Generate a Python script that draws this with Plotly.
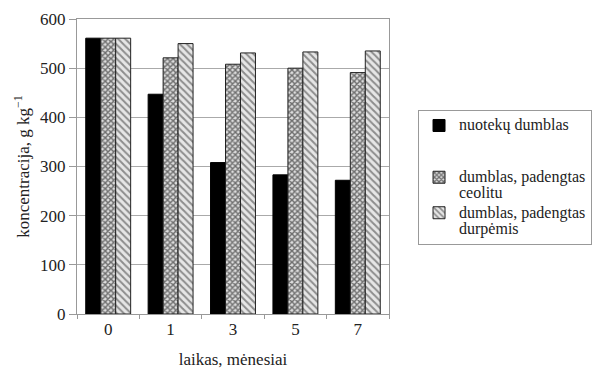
import plotly.graph_objects as go

categories = ["0", "1", "3", "5", "7"]
nuoteku = [561, 447, 308, 283, 272]
ceolitu = [561, 521, 508, 500, 491]
durpemis = [561, 550, 531, 533, 535]
series_lines = [["nuotekų dumblas", " ", " "],
                ["dumblas, padengtas", "ceolitu"],
                ["dumblas, padengtas", "durpėmis"]]
series_names = ["<br>".join("<span style='font-size:16px'>%s</span>" % s for s in lines)
                for lines in series_lines]

font = "Times New Roman"

fig = go.Figure()
fig.add_bar(x=categories, y=nuoteku, name=series_names[0],
            marker=dict(color="black", line=dict(color="black", width=1)))
fig.add_bar(x=categories, y=ceolitu, name=series_names[1],
            marker=dict(color="white", line=dict(color="#222", width=1),
                        pattern=dict(shape="x", fgcolor="#000", bgcolor="#ddd", size=4, solidity=0.6)))
fig.add_bar(x=categories, y=durpemis, name=series_names[2],
            marker=dict(color="white", line=dict(color="#222", width=1),
                        pattern=dict(shape="\\", fgcolor="#333", bgcolor="#e6e6e6", size=5, solidity=0.4)))

fig.update_layout(
    width=601, height=373,
    margin=dict(l=77, r=212, t=19, b=59, autoexpand=False),
    paper_bgcolor="white", plot_bgcolor="white",
    barmode="group", bargap=0.28, bargroupgap=0,
    font=dict(family=font, size=17, color="#222"),
    showlegend=True,
    legend=dict(x=1.093, y=0.692, xanchor="left", yanchor="top", valign="top",
                bordercolor="#999", borderwidth=1, bgcolor="white",
                font=dict(family=font, size=12.5, color="#222"),
                tracegroupgap=0, itemwidth=30),
)
fig.update_xaxes(title=dict(text="laikas, mėnesiai", standoff=14, font=dict(size=17)),
                 automargin=False,
                 showline=True, linecolor="#999", linewidth=1, mirror=True,
                 ticks="outside", tickson="boundaries", ticklen=4, tickcolor="#999",
                 showgrid=False)
fig.update_yaxes(title=dict(text="koncentracija, g kg<sup>−1</sup>", standoff=6, font=dict(size=17)),
                 automargin=False,
                 range=[0, 600], dtick=100,
                 showline=True, linecolor="#999", linewidth=1, mirror=True,
                 ticks="outside", ticklen=7, tickcolor="#999",
                 showgrid=True, gridcolor="#aaa", gridwidth=1, zeroline=False)

fig.write_html("out.html", config={"displayModeBar": False},
               post_script="document.body.style.margin='0';document.body.style.overflow='hidden';")
